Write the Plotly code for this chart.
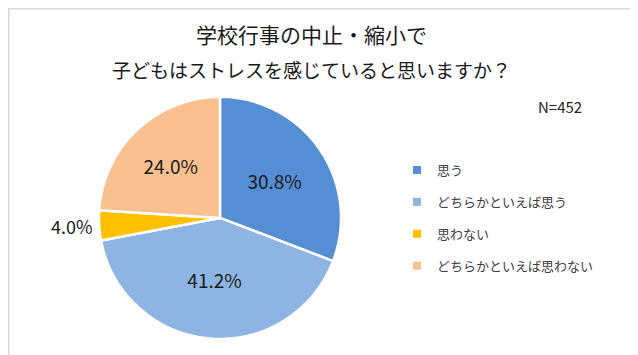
import plotly.graph_objects as go

title_lines = ["学校行事の中止・縮小で", "子どもはストレスを感じていると思いますか？"]
labels = ["思う", "どちらかといえば思う", "思わない", "どちらかといえば思わない"]
values = [30.8, 41.2, 4.0, 24.0]
colors = ["#558ED5", "#8EB4E3", "#FFC000", "#FAC090"]
text_pos = ["inside", "inside", "outside", "inside"]
note = "N=452"

FONT = "Noto Sans CJK JP"

fig = go.Figure()
fig.add_trace(go.Pie(
    labels=labels, values=values, sort=False, direction="clockwise", rotation=0,
    marker=dict(colors=colors, line=dict(color="white", width=2.5)),
    texttemplate="%{value:.1f}%", textposition=text_pos,
    insidetextorientation="horizontal",
    textfont=dict(family=FONT, size=19, color="#1a1a1a"),
    outsidetextfont=dict(family=FONT, size=18, color="#1a1a1a"),
    showlegend=False, hoverinfo="label+value",
    domain=dict(x=[0.1425, 0.522], y=[0.0677, 0.7497]),
))

# legend entries (one group each so they can be spaced like the original)
for lab, col in zip(labels, colors):
    fig.add_trace(go.Scatter(
        x=[None], y=[None], mode="markers", name=lab, legendgroup=lab,
        marker=dict(symbol="square", size=8, color=col),
    ))

fig.update_xaxes(visible=False)
fig.update_yaxes(visible=False)

annotations = [
    dict(text=title_lines[0], x=303 / 638, y=1 - 26 / 355, xref="paper", yref="paper",
         showarrow=False, font=dict(family=FONT, size=21, color="#1a1a1a"),
         xanchor="center", yanchor="middle"),
    dict(text=title_lines[1], x=303 / 638, y=1 - 61 / 355, xref="paper", yref="paper",
         showarrow=False, font=dict(family=FONT, size=19, color="#1a1a1a"),
         xanchor="center", yanchor="middle"),
    dict(text=note, x=552 / 638, y=1 - 98 / 355, xref="paper", yref="paper",
         showarrow=False, font=dict(family=FONT, size=15, color="#262626"),
         xanchor="center", yanchor="middle"),
]

fig.update_layout(
    width=638, height=355,
    margin=dict(l=0, r=0, t=0, b=0),
    paper_bgcolor="white", plot_bgcolor="white",
    annotations=annotations,
    legend=dict(x=389 / 638, y=1 - 147 / 355, xanchor="left", yanchor="top",
                font=dict(family=FONT, size=13, color="#404040"),
                tracegroupgap=12, itemwidth=30, bgcolor="rgba(0,0,0,0)"),
    shapes=[dict(type="rect", xref="paper", yref="paper", x0=0, x1=1, y0=0, y1=1,
                 line=dict(color="#d9d9d9", width=3), layer="above")],
)

fig.write_html("out.html")
